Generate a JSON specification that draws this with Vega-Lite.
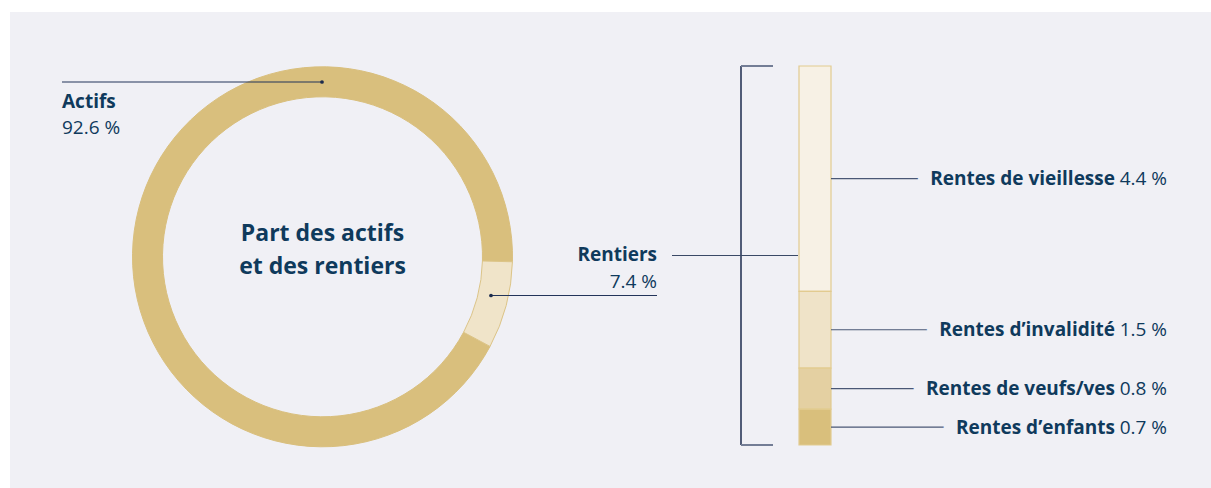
{
  "$schema": "https://vega.github.io/schema/vega-lite/v6.json",
  "width": 1201,
  "height": 476,
  "autosize": {"type": "none"},
  "padding": {"left": 10, "top": 12, "right": 0, "bottom": 0},
  "background": "#ffffff",
  "config": {
    "view": {"fill": "#f0f0f5", "stroke": null},
    "axis": {"disable": true},
    "font": "Open Sans",
    "text": {"font": "Open Sans", "fill": "#0f3a5c"}
  },
  "datasets": {
    "donut": [
      {"categorie": "Actifs", "part": 92.6},
      {"categorie": "Rentiers", "part": 7.4}
    ],
    "rentes": [
      {"categorie": "Rentes de vieillesse", "part": 4.4},
      {"categorie": "Rentes d’invalidité", "part": 1.5},
      {"categorie": "Rentes de veufs/ves", "part": 0.8},
      {"categorie": "Rentes d’enfants", "part": 0.7}
    ]
  },
  "resolve": {"scale": {"y": "independent", "color": "independent"}},
  "layer": [
    {
      "layer": [
        {
          "data": {"name": "donut"},
          "transform": [
            {"stack": "part", "groupby": [], "sort": [{"field": "part", "order": "ascending"}], "as": ["t0", "t1"]}
          ],
          "mark": {"type": "arc", "radius": 190, "radius2": 160, "strokeWidth": 1},
          "encoding": {
            "x": {"datum": 322.5, "type": "quantitative", "stack": null, "scale": {"domain": [10, 1211], "zero": false, "nice": false}, "axis": null},
            "y": {"datum": 256.8, "type": "quantitative", "stack": null, "scale": {"domain": [12, 488], "reverse": true, "zero": false, "nice": false}, "axis": null},
            "theta": {"field": "t0", "type": "quantitative", "scale": {"domain": [0, 100], "range": [1.597, 7.880]}},
            "theta2": {"field": "t1"},
            "color": {"field": "categorie", "type": "nominal", "scale": {"domain": ["Actifs", "Rentiers"], "range": ["#d9bf7d", "#f0e4c9"]}, "legend": null},
            "stroke": {"field": "categorie", "type": "nominal", "scale": {"domain": ["Actifs", "Rentiers"], "range": ["#d9bf7d", "#dcc487"]}, "legend": null}
          }
        },
        {
          "data": {"values": [{}]},
          "mark": {"type": "text", "align": "center", "baseline": "alphabetic", "fontSize": 23, "fontWeight": "bold", "lineHeight": 33, "fill": "#0f3a5c"},
          "encoding": {
            "x": {"datum": 322.5, "type": "quantitative", "scale": {"domain": [10, 1211], "zero": false, "nice": false}, "axis": null},
            "y": {"datum": 241, "type": "quantitative", "scale": {"domain": [12, 488], "reverse": true, "zero": false, "nice": false}, "axis": null},
            "text": {"value": ["Part des actifs", "et des rentiers"]}
          }
        },
        {
          "data": {"values": [{}]},
          "mark": {"type": "rule", "stroke": "#23345a", "strokeWidth": 1.2},
          "encoding": {
            "x": {"datum": 62, "type": "quantitative", "scale": {"domain": [10, 1211], "zero": false, "nice": false}, "axis": null},
            "x2": {"datum": 322},
            "y": {"datum": 82, "type": "quantitative", "scale": {"domain": [12, 488], "reverse": true, "zero": false, "nice": false}, "axis": null}
          }
        },
        {
          "data": {"values": [{}]},
          "mark": {"type": "point", "filled": true, "size": 14, "opacity": 1, "color": "#1c2b4d"},
          "encoding": {
            "x": {"datum": 322, "type": "quantitative", "scale": {"domain": [10, 1211], "zero": false, "nice": false}, "axis": null},
            "y": {"datum": 82, "type": "quantitative", "scale": {"domain": [12, 488], "reverse": true, "zero": false, "nice": false}, "axis": null}
          }
        },
        {
          "data": {"name": "donut"},
          "transform": [{"filter": "datum.categorie === 'Actifs'"}],
          "mark": {"type": "text", "align": "left", "baseline": "alphabetic", "fontSize": 19, "fontWeight": "bold", "fill": "#0f3a5c"},
          "encoding": {
            "x": {"datum": 62, "type": "quantitative", "scale": {"domain": [10, 1211], "zero": false, "nice": false}, "axis": null},
            "y": {"datum": 108.3, "type": "quantitative", "scale": {"domain": [12, 488], "reverse": true, "zero": false, "nice": false}, "axis": null},
            "text": {"field": "categorie"}
          }
        },
        {
          "data": {"name": "donut"},
          "transform": [
            {"filter": "datum.categorie === 'Actifs'"},
            {"calculate": "format(datum.part, '.1f') + ' %'", "as": "txt"}
          ],
          "mark": {"type": "text", "align": "left", "baseline": "alphabetic", "fontSize": 19, "fontWeight": "normal", "fill": "#0f3a5c"},
          "encoding": {
            "x": {"datum": 62, "type": "quantitative", "scale": {"domain": [10, 1211], "zero": false, "nice": false}, "axis": null},
            "y": {"datum": 134, "type": "quantitative", "scale": {"domain": [12, 488], "reverse": true, "zero": false, "nice": false}, "axis": null},
            "text": {"field": "txt"}
          }
        },
        {
          "data": {"values": [{}]},
          "mark": {"type": "rule", "stroke": "#23345a", "strokeWidth": 1.2},
          "encoding": {
            "x": {"datum": 491, "type": "quantitative", "scale": {"domain": [10, 1211], "zero": false, "nice": false}, "axis": null},
            "x2": {"datum": 657},
            "y": {"datum": 295.5, "type": "quantitative", "scale": {"domain": [12, 488], "reverse": true, "zero": false, "nice": false}, "axis": null}
          }
        },
        {
          "data": {"values": [{}]},
          "mark": {"type": "point", "filled": true, "size": 14, "opacity": 1, "color": "#1c2b4d"},
          "encoding": {
            "x": {"datum": 491, "type": "quantitative", "scale": {"domain": [10, 1211], "zero": false, "nice": false}, "axis": null},
            "y": {"datum": 295.5, "type": "quantitative", "scale": {"domain": [12, 488], "reverse": true, "zero": false, "nice": false}, "axis": null}
          }
        },
        {
          "data": {"name": "donut"},
          "transform": [{"filter": "datum.categorie === 'Rentiers'"}],
          "mark": {"type": "text", "align": "right", "baseline": "alphabetic", "fontSize": 19, "fontWeight": "bold", "fill": "#0f3a5c"},
          "encoding": {
            "x": {"datum": 657, "type": "quantitative", "scale": {"domain": [10, 1211], "zero": false, "nice": false}, "axis": null},
            "y": {"datum": 261, "type": "quantitative", "scale": {"domain": [12, 488], "reverse": true, "zero": false, "nice": false}, "axis": null},
            "text": {"field": "categorie"}
          }
        },
        {
          "data": {"name": "donut"},
          "transform": [
            {"filter": "datum.categorie === 'Rentiers'"},
            {"calculate": "format(datum.part, '.1f') + ' %'", "as": "txt"}
          ],
          "mark": {"type": "text", "align": "right", "baseline": "alphabetic", "fontSize": 19, "fontWeight": "normal", "fill": "#0f3a5c"},
          "encoding": {
            "x": {"datum": 657, "type": "quantitative", "scale": {"domain": [10, 1211], "zero": false, "nice": false}, "axis": null},
            "y": {"datum": 287.7, "type": "quantitative", "scale": {"domain": [12, 488], "reverse": true, "zero": false, "nice": false}, "axis": null},
            "text": {"field": "txt"}
          }
        }
      ]
    },
    {
      "layer": [
        {
          "data": {"name": "rentes"},
          "transform": [
            {"stack": "part", "groupby": [], "sort": [{"field": "part", "order": "ascending"}], "as": ["y0", "y1"]}
          ],
          "mark": {"type": "bar", "stroke": "#e2cb90", "strokeWidth": 1.2},
          "encoding": {
            "x": {"datum": 799, "type": "quantitative", "scale": {"domain": [10, 1211], "zero": false, "nice": false}, "axis": null},
            "x2": {"datum": 831},
            "y": {"field": "y0", "type": "quantitative", "scale": {"domain": [-0.8396, 8.4544], "zero": false, "nice": false}, "axis": null},
            "y2": {"field": "y1"},
            "color": {"field": "categorie", "type": "nominal", "scale": {"domain": ["Rentes de vieillesse", "Rentes d’invalidité", "Rentes de veufs/ves", "Rentes d’enfants"], "range": ["#f7f1e5", "#efe3c8", "#e4d0a2", "#d9bf7c"]}, "legend": null}
          }
        },
        {
          "data": {"values": [{}]},
          "mark": {"type": "rule", "stroke": "#1c2b4d", "strokeWidth": 1.5},
          "encoding": {
            "x": {"datum": 741, "type": "quantitative", "scale": {"domain": [10, 1211], "zero": false, "nice": false}, "axis": null},
            "y": {"datum": 0, "type": "quantitative", "scale": {"domain": [-0.8396, 8.4544], "zero": false, "nice": false}, "axis": null},
            "y2": {"datum": 7.4}
          }
        },
        {
          "data": {"values": [{}]},
          "mark": {"type": "rule", "stroke": "#737d95", "strokeWidth": 2},
          "encoding": {
            "x": {"datum": 741, "type": "quantitative", "scale": {"domain": [10, 1211], "zero": false, "nice": false}, "axis": null},
            "x2": {"datum": 773},
            "y": {"datum": 7.4, "type": "quantitative", "scale": {"domain": [-0.8396, 8.4544], "zero": false, "nice": false}, "axis": null}
          }
        },
        {
          "data": {"values": [{}]},
          "mark": {"type": "rule", "stroke": "#737d95", "strokeWidth": 2},
          "encoding": {
            "x": {"datum": 741, "type": "quantitative", "scale": {"domain": [10, 1211], "zero": false, "nice": false}, "axis": null},
            "x2": {"datum": 773},
            "y": {"datum": 0, "type": "quantitative", "scale": {"domain": [-0.8396, 8.4544], "zero": false, "nice": false}, "axis": null}
          }
        },
        {
          "data": {"values": [{}]},
          "mark": {"type": "rule", "stroke": "#3a4966", "strokeWidth": 1.2},
          "encoding": {
            "x": {"datum": 672, "type": "quantitative", "scale": {"domain": [10, 1211], "zero": false, "nice": false}, "axis": null},
            "x2": {"datum": 798},
            "y": {"datum": 3.7, "type": "quantitative", "scale": {"domain": [-0.8396, 8.4544], "zero": false, "nice": false}, "axis": null}
          }
        },
        {
          "data": {"name": "rentes"},
          "transform": [
            {"stack": "part", "groupby": [], "sort": [{"field": "part", "order": "ascending"}], "as": ["y0", "y1"]},
            {"calculate": "(datum.y0 + datum.y1) / 2", "as": "ymid"}
          ],
          "mark": {"type": "rule", "stroke": "#4a5775", "strokeWidth": 1.2},
          "encoding": {
            "x": {"datum": 831, "type": "quantitative", "scale": {"domain": [10, 1211], "zero": false, "nice": false}, "axis": null},
            "x2": {"datum": 1100},
            "y": {"field": "ymid", "type": "quantitative", "scale": {"domain": [-0.8396, 8.4544], "zero": false, "nice": false}, "axis": null}
          }
        },
        {
          "data": {"name": "rentes"},
          "transform": [
            {"stack": "part", "groupby": [], "sort": [{"field": "part", "order": "ascending"}], "as": ["y0", "y1"]},
            {"calculate": "(datum.y0 + datum.y1) / 2", "as": "ymid"}
          ],
          "mark": {"type": "text", "align": "right", "baseline": "alphabetic", "dy": 6.5, "fontSize": 19, "fontWeight": "bold", "fill": "#f0f0f5", "stroke": "#f0f0f5", "strokeWidth": 28, "strokeJoin": "round"},
          "encoding": {
            "x": {"datum": 1115, "type": "quantitative", "scale": {"domain": [10, 1211], "zero": false, "nice": false}, "axis": null},
            "y": {"field": "ymid", "type": "quantitative", "scale": {"domain": [-0.8396, 8.4544], "zero": false, "nice": false}, "axis": null},
            "text": {"field": "categorie"}
          }
        },
        {
          "data": {"name": "rentes"},
          "transform": [
            {"stack": "part", "groupby": [], "sort": [{"field": "part", "order": "ascending"}], "as": ["y0", "y1"]},
            {"calculate": "(datum.y0 + datum.y1) / 2", "as": "ymid"}
          ],
          "mark": {"type": "text", "align": "right", "baseline": "alphabetic", "dy": 6.5, "fontSize": 19, "fontWeight": "bold", "fill": "#0f3a5c"},
          "encoding": {
            "x": {"datum": 1115, "type": "quantitative", "scale": {"domain": [10, 1211], "zero": false, "nice": false}, "axis": null},
            "y": {"field": "ymid", "type": "quantitative", "scale": {"domain": [-0.8396, 8.4544], "zero": false, "nice": false}, "axis": null},
            "text": {"field": "categorie"}
          }
        },
        {
          "data": {"name": "rentes"},
          "transform": [
            {"stack": "part", "groupby": [], "sort": [{"field": "part", "order": "ascending"}], "as": ["y0", "y1"]},
            {"calculate": "(datum.y0 + datum.y1) / 2", "as": "ymid"},
            {"calculate": "format(datum.part, '.1f') + ' %'", "as": "txt"}
          ],
          "mark": {"type": "text", "align": "right", "baseline": "alphabetic", "dy": 6.5, "fontSize": 19, "fontWeight": "normal", "fill": "#0f3a5c"},
          "encoding": {
            "x": {"datum": 1167, "type": "quantitative", "scale": {"domain": [10, 1211], "zero": false, "nice": false}, "axis": null},
            "y": {"field": "ymid", "type": "quantitative", "scale": {"domain": [-0.8396, 8.4544], "zero": false, "nice": false}, "axis": null},
            "text": {"field": "txt"}
          }
        }
      ]
    }
  ]
}
